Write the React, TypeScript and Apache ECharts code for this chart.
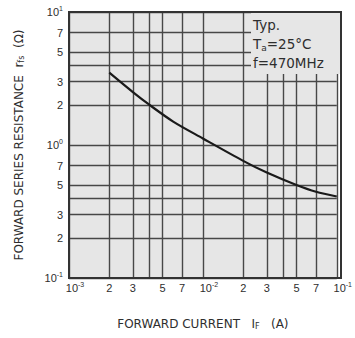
import React, { useEffect, useRef } from "react";
import * as echarts from "echarts";

// Forward current (A) vs forward series resistance (ohm)
const currentA = [0.002, 0.003, 0.004, 0.006, 0.01, 0.02, 0.03, 0.05, 0.07, 0.1];
const resistanceOhm = [3.5, 2.5, 2.0, 1.5, 1.12, 0.76, 0.62, 0.5, 0.445, 0.41];

const xGridValues = [0.001, 0.002, 0.003, 0.004, 0.005, 0.007, 0.01, 0.02, 0.03, 0.04, 0.05, 0.07, 0.1];
const xLabelValues = [0.001, 0.002, 0.003, 0.005, 0.007, 0.01, 0.02, 0.03, 0.05, 0.07, 0.1];
const xLabelTexts = ["10^-3", "2", "3", "5", "7", "10^-2", "2", "3", "5", "7", "10^-1"];
const yGridValues = [0.1, 0.2, 0.3, 0.4, 0.5, 0.7, 1, 2, 3, 4, 5, 7, 10];
const yLabelValues = [0.1, 0.2, 0.3, 0.5, 0.7, 1, 2, 3, 5, 7, 10];
const yLabelTexts = ["10^-1", "2", "3", "5", "7", "10^0", "2", "3", "5", "7", "10^1"];

const noteLines = ["{n|Typ.}", "{n|T}{sub|a}{n|=25°C}", "{n|f=470MHz}"];

const FONT = "'Liberation Sans', Arial, sans-serif";
const TITLE_FONT = "'DejaVu Sans', 'Liberation Sans', sans-serif";
const INK = "#2e2e2e";
const BG = "#e6e6e6";

function findLabel(values: number[], texts: string[], v: number): string {
  for (let i = 0; i < values.length; i++) {
    if (Math.abs(Math.log10(values[i]) - Math.log10(v)) < 0.005) return texts[i];
  }
  return "";
}

function toRich(t: string, pad: boolean): string {
  if (t.indexOf("^") >= 0) {
    const [b, s] = t.split("^");
    return (pad ? "{p|}" : "") + "{b|" + b + "}{s|" + s + "}";
  }
  return "{b|" + t + "}";
}

const labelRich = {
  b: { fontSize: 11, fontFamily: FONT, color: INK, lineHeight: 14 },
  s: { fontSize: 7, fontFamily: FONT, color: INK, lineHeight: 8, verticalAlign: "top" as const },
  p: { width: 12, height: 14 },
};

const titleRich = {
  t: { fontSize: 12, fontFamily: TITLE_FONT, color: INK },
  sub: { fontSize: 8, fontFamily: TITLE_FONT, color: INK, verticalAlign: "bottom" as const, lineHeight: 9 },
};

export default function App() {
  const ref = useRef<HTMLDivElement>(null);
  useEffect(() => {
    if (!ref.current) return;
    const chart = echarts.init(ref.current, undefined, { renderer: "svg" });
    const left = 69, top = 12, right = 14, bottom = 60;
    const W = 355, H = 338;
    const gw = W - left - right, gh = H - top - bottom;
    chart.setOption({
      animation: false,
      backgroundColor: "#ffffff",
      textStyle: { fontFamily: FONT },
      grid: { left, top, right, bottom, show: true, backgroundColor: BG, borderWidth: 0 },
      xAxis: {
        type: "log",
        logBase: 10,
        min: 0.001,
        max: 0.1,
        axisLine: { show: false },
        axisTick: { show: false, customValues: xGridValues },
        minorTick: { show: false },
        splitLine: { show: true, lineStyle: { color: "#474747", width: 1.4 } },
        axisLabel: {
          customValues: xLabelValues,
          margin: 3,
          formatter: (v: number) => toRich(findLabel(xLabelValues, xLabelTexts, v), true),
          rich: labelRich,
        },
        name: "{t|FORWARD CURRENT   I}{sub|F}{t|   (A)}",
        nameLocation: "middle",
        nameGap: 40,
        nameTextStyle: { rich: titleRich },
      },
      yAxis: {
        type: "log",
        logBase: 10,
        min: 0.1,
        max: 10,
        axisLine: { show: false },
        axisTick: { show: false, customValues: yGridValues },
        minorTick: { show: false },
        splitLine: { show: true, lineStyle: { color: "#474747", width: 1.4 } },
        axisLabel: {
          customValues: yLabelValues,
          margin: 6,
          formatter: (v: number) => toRich(findLabel(yLabelValues, yLabelTexts, v), false),
          rich: labelRich,
        },
        name: "{t|FORWARD SERIES RESISTANCE  r}{sub|fs}{t|  (Ω)}",
        nameLocation: "middle",
        nameGap: 44,
        nameRotate: 90,
        nameTextStyle: { rich: titleRich },
      },
      series: [
        {
          type: "line",
          data: currentA.map((x, i) => [x, resistanceOhm[i]]),
          smooth: 0.3,
          showSymbol: false,
          lineStyle: { color: "#1a1a1a", width: 2.2 },
          z: 5,
        },
      ],
      graphic: [
        {
          type: "rect",
          z: 50,
          shape: { x: 251, y: top + 1, width: W - right - 251 - 1, height: 61 },
          style: { fill: BG },
        },
        ...noteLines.map((t, i) => ({
          type: "text",
          z: 60,
          x: 253,
          y: 25 + i * 19,
          style: {
            text: t,
            verticalAlign: "middle",
            rich: {
              n: { fontSize: 13.5, fontFamily: TITLE_FONT, fill: INK, lineHeight: 16 },
              sub: { fontSize: 9, fontFamily: TITLE_FONT, fill: INK, lineHeight: 10, verticalAlign: "bottom" },
            },
          },
        })),
        {
          type: "rect",
          z: 100,
          shape: { x: left, y: top, width: gw, height: gh },
          style: { fill: "none", stroke: "#333333", lineWidth: 2 },
        },
      ],
    });
    return () => chart.dispose();
  }, []);
  return (
    <div
      ref={ref}
      style={{ position: "fixed", left: 0, top: 0, width: 355, height: 338, background: "#fff" }}
    />
  );
}
